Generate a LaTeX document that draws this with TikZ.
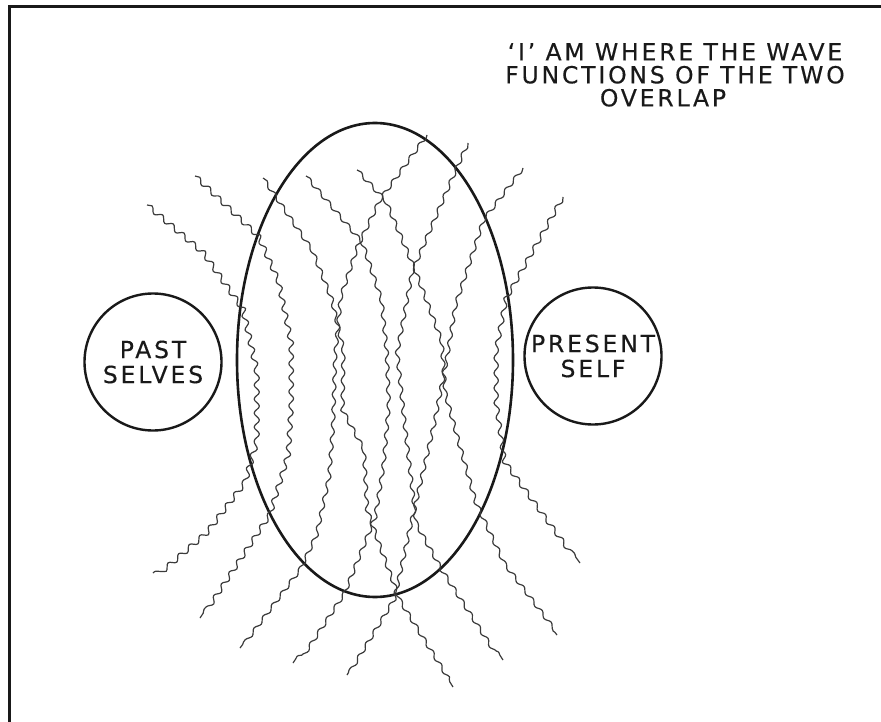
\documentclass[tikz,border=0pt]{standalone}
\usepackage{fontspec}
\newfontfamily\handfont{DejaVu Sans}[LetterSpace=12, FakeBold=0.4]
\usepackage{tikz}
\usetikzlibrary{decorations.pathmorphing, positioning}
\definecolor{ink}{RGB}{25,25,25}
\tikzset{
  wavefn/.style={ink!85, line width=1.2pt, line join=round, decorate,
    decoration={snake, segment length=15pt, amplitude=1.8pt}},
  selfcircle/.style={circle, draw=ink, line width=2.4pt, minimum size=137pt,
    inner sep=0pt, align=center, text=ink, font=\handfont\fontsize{23.5}{25}\selectfont},
}

\begin{document}
\begin{tikzpicture}[x=1pt, y=-1pt]
  \useasboundingbox (0,0) rectangle (881,722);
  % panel frame
  \draw[ink, line width=3pt] (9,722) -- (9,7) -- (881,7);
  % caption
  \node[anchor=north, align=center, inner sep=0pt, text=ink,
    font=\handfont\fontsize{23.5}{23}\selectfont] (caption) at (675,43)
    {‘I’ AM WHERE THE WAVE\\FUNCTIONS OF THE TWO\\OVERLAP\hspace*{24pt}};
  % the two selves
  \node[selfcircle] (past) at (153,362) {PAST\\SELVES};
  \node[selfcircle] (present) at (593,356) {PRESENT\\SELF};
  % overlap region
  \draw[ink, line width=2.6pt] (375,360) ellipse [x radius=138pt, y radius=237pt];
  % wave functions, top ends to bottom ends
  \draw[wavefn, decoration={amplitude=2.6pt, segment length=14pt}] (147,205) -- (200,250) -- (240,307) -- (254,370) -- (254,440) -- (243,478) -- (205,528) -- (153,573);
  \draw[wavefn, decoration={amplitude=2.4pt, segment length=14pt}] (195,176) -- (257,235) -- (277,280) -- (290,343) -- (290,403) -- (287,453) -- (268,515) -- (200,618);
  \draw[wavefn] (263,178) -- (310,247) -- (330,297) -- (341,345) -- (340,410) -- (360,447) -- (363,503) -- (377,543) -- (397,597) -- (453,687);
  \draw[wavefn] (306,176) -- (360,240) -- (380,300) -- (385,350) -- (387,403) -- (382,460) -- (374,510) -- (343,587) -- (293,663);
  \draw[wavefn] (357,170) -- (382,197) -- (413,270) -- (438,337) -- (442,393) -- (455,440) -- (472,500) -- (500,560) -- (557,635);
  \draw[wavefn] (427,135) -- (382,197) -- (360,243) -- (342,297) -- (337,350) -- (335,417) -- (331,470) -- (318,530) -- (300,568) -- (240,648);
  \draw[wavefn] (468,143) -- (455,172) -- (413,270) -- (398,350) -- (405,417) -- (417,520) -- (443,567) -- (503,660);
  \draw[wavefn] (523,168) -- (485,218) -- (458,300) -- (450,350) -- (437,417) -- (413,520) -- (397,593) -- (347,675);
  \draw[wavefn, decoration={amplitude=2.2pt}] (563,197) -- (507,297) -- (497,350) -- (497,403) -- (505,460) -- (580,563);
\end{tikzpicture}
\end{document}
